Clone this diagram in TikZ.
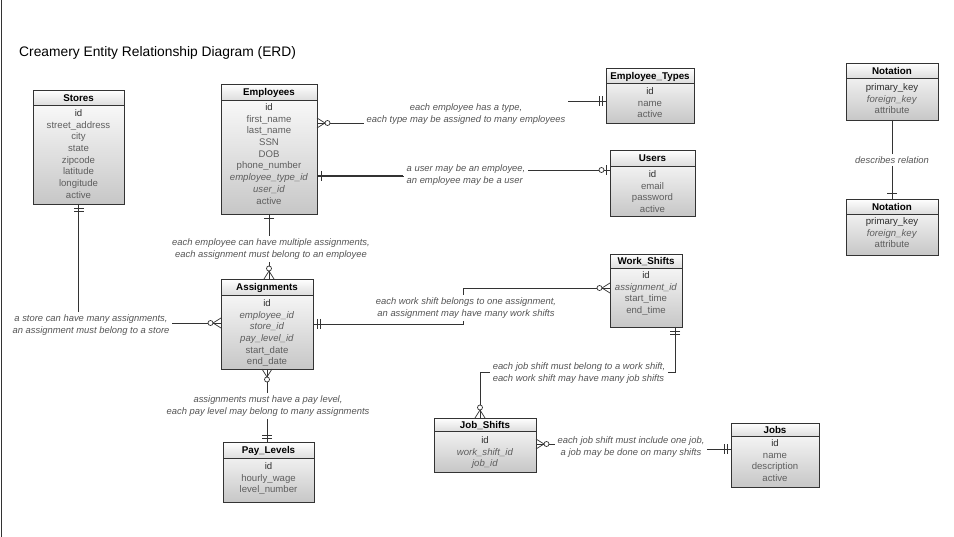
\documentclass[tikz,border=0pt]{standalone}
\usepackage{fontspec}
\setmainfont{Liberation Sans}
\usetikzlibrary{calc}
\definecolor{attrgray}{HTML}{5E5E5E}
\definecolor{pkgray}{HTML}{2E2E2E}
\definecolor{lblgray}{HTML}{555555}
\definecolor{edgegray}{HTML}{333333}
\newcommand{\erpk}[1]{\textcolor{pkgray}{#1}}
\newcommand{\erfk}[1]{\textit{#1}}
\tikzset{
  entbox/.style={draw=edgegray, line width=0.7pt, top color=white, bottom color=black!22, inner sep=0pt, outer sep=0pt},
  enthead/.style={draw=edgegray, line width=0.7pt, top color=white, bottom color=black!13},
  enttitle/.style={anchor=base, inner sep=0pt, font=\fontsize{9.8}{11}\selectfont\bfseries, text=black},
  entrow/.style={anchor=base, inner sep=0pt, font=\fontsize{9.6}{11}\selectfont, text=attrgray},
  conn/.style={draw=edgegray, line width=0.7pt},
  mk/.style={draw=edgegray, line width=0.7pt},
  lbl/.style={fill=white, inner xsep=3pt, inner ysep=2.5pt, font=\fontsize{9.4}{11.6}\selectfont\itshape, text=lblgray, align=center},
  erOne/.pic={\draw[mk] (4,-5) -- (4,5);},
  erOneAt/.pic={\draw[mk] (6,-5) -- (6,5);},
  erOneOne/.pic={\draw[mk] (4,-5) -- (4,5) (7,-5) -- (7,5);},
  erZeroOne/.pic={\draw[mk] (4,-5) -- (4,5); \draw[mk, fill=white] (8.5,0) circle (2.5);},
  erZeroMany/.pic={\draw[mk] (0,-5) -- (8,0) -- (0,5); \draw[mk, fill=white] (10.5,0) circle (2.5);},
}
% #1 name, #2 left, #3 top, #4 right, #5 bottom, #6 header bottom, #7 title, #8 first row y, #9 rows
\newcommand{\erEntity}[9]{%
  \node[entbox, minimum width={#4-#2}, minimum height={#5-#3}] (#1) at ({(#2+#4)/2},{(#3+#5)/2}) {};
  \draw[enthead] (#2,#3) rectangle (#4,#6);
  \node[enttitle] (#1-title) at ({(#2+#4)/2},{(#3+#6)/2+3.6}) {#7};
  \foreach \rowtext [count=\ri] in {#9} {
    \node[entrow] (#1-r\ri) at ({(#2+#4)/2},{#8+(\ri-1)*11.7+3.5}) {\rowtext};
  }%
}
\begin{document}
\begin{tikzpicture}[x=1pt, y=-1pt]
\useasboundingbox[fill=white] (0,0) rectangle (954,537);
\draw[edgegray, line width=1pt] (1,0) -- (1,537);

\node[anchor=base west, inner sep=0pt, font=\fontsize{13.8}{16}\selectfont] (title) at (19,57) {Creamery Entity Relationship Diagram (ERD)};

% entities
\erEntity{stores}{33}{90}{124}{204}{105}{Stores}{113}{\erpk{id}, street\_address, city, state, zipcode, latitude, longitude, active}
\erEntity{emp}{221}{84}{317}{214}{100}{Employees}{107}{\erpk{id}, first\_name, last\_name, SSN, DOB, phone\_number, \erfk{employee\_type\_id}, \erfk{user\_id}, active}
\erEntity{etype}{606}{68}{694}{123}{83}{Employee\_Types}{91}{\erpk{id}, name, active}
\erEntity{users}{610}{150}{695}{216}{166}{Users}{174}{\erpk{id}, email, password, active}
\erEntity{not1}{846}{63}{938}{120}{78}{Notation}{87}{\erpk{primary\_key}, \erfk{foreign\_key}, attribute}
\erEntity{not2}{846}{199}{938}{255}{214}{Notation}{221}{\erpk{primary\_key}, \erfk{foreign\_key}, attribute}
\erEntity{asg}{221}{279}{313}{369}{295}{Assignments}{303}{\erpk{id}, \erfk{employee\_id}, \erfk{store\_id}, \erfk{pay\_level\_id}, start\_date, end\_date}
\erEntity{ws}{610}{254}{682}{327}{268}{Work\_Shifts}{275}{\erpk{id}, \erfk{assignment\_id}, start\_time, end\_time}
\erEntity{pay}{223}{442}{314}{502}{458}{Pay\_Levels}{466}{\erpk{id}, hourly\_wage, level\_number}
\erEntity{js}{434}{418}{536}{472}{431}{Job\_Shifts}{440}{\erpk{id}, \erfk{work\_shift\_id}, \erfk{job\_id}}
\erEntity{jobs}{731}{423}{819}{487}{436}{Jobs}{443}{\erpk{id}, name, description, active}

% connectors
\draw[conn] (emp.east |- 0,123) -- (466,123) -- (466,101) -- (etype.west |- 0,101);
\draw[conn] (emp.east |- 0,176) -- (466,176) -- (466,170) -- (users.west |- 0,170);
\draw[conn] (emp.south) -- (emp.south |- asg.north);
\draw[conn] (stores.south) -- (stores.south |- 0,323) -- (asg.west |- 0,323);
\draw[conn] (asg.east |- 0,324) -- (463,324) -- (463,288) -- (ws.west |- 0,288);
\draw[conn] (675,0 |- ws.south) -- (675,372) -- (480,372) -- (480,0 |- js.north);
\draw[conn] (js.east |- 0,444) -- (632,444) -- (632,449) -- (jobs.west |- 0,449);
\draw[conn] (asg.south) -- (asg.south |- pay.north);
\draw[conn] (not1.south) -- (not2.north);

% labels
\node[lbl] (l1) at (466,114) {each employee has a type,\\each type may be assigned to many employees};
\node[lbl, align=left] (l2) at (466,175) {a user may be an employee,\\an employee may be a user};
\node[lbl] (l3) at (271,249) {each employee can have multiple assignments,\\each assignment must belong to an employee};
\node[lbl] (l4) at (91,325) {a store can have many assignments,\\an assignment must belong to a store};
\node[lbl] (l5) at (466,308) {each work shift belongs to one assignment,\\an assignment may have many work shifts};
\node[lbl, align=left] (l6) at (579,373) {each job shift must belong to a work shift,\\each work shift may have many job shifts};
\node[lbl] (l7) at (631,447) {each job shift must include one job,\\a job may be done on many shifts};
\node[lbl] (l8) at (268,406) {assignments must have a pay level,\\each pay level may belong to many assignments};
\node[lbl] (l9) at (892,160) {describes relation};

\draw[conn, line width=1.5pt] (emp.east |- 0,176) -- (l2.west |- 0,176);

% end markers
\path (emp.east |- 0,123) pic {erZeroMany};
\path (etype.west |- 0,101) pic[rotate=180] {erOneOne};
\path (emp.east |- 0,176) pic {erOne};
\path (users.west |- 0,170) pic[rotate=180] {erZeroOne};
\path (emp.south) pic[rotate=-90] {erOne};
\path (emp.south |- asg.north) pic[rotate=90] {erZeroMany};
\path (stores.south) pic[rotate=-90] {erOneOne};
\path (asg.west |- 0,323) pic[rotate=180] {erZeroMany};
\path (asg.east |- 0,324) pic {erOneOne};
\path (ws.west |- 0,288) pic[rotate=180] {erZeroMany};
\path (675,0 |- ws.south) pic[rotate=-90] {erOneOne};
\path (480,0 |- js.north) pic[rotate=90] {erZeroMany};
\path (js.east |- 0,444) pic {erZeroMany};
\path (jobs.west |- 0,449) pic[rotate=180] {erOneOne};
\path (asg.south) pic[rotate=-90] {erZeroMany};
\path (asg.south |- pay.north) pic[rotate=90] {erOneOne};
\path (not2.north) pic[rotate=90] {erOneAt};
\end{tikzpicture}
\end{document}
